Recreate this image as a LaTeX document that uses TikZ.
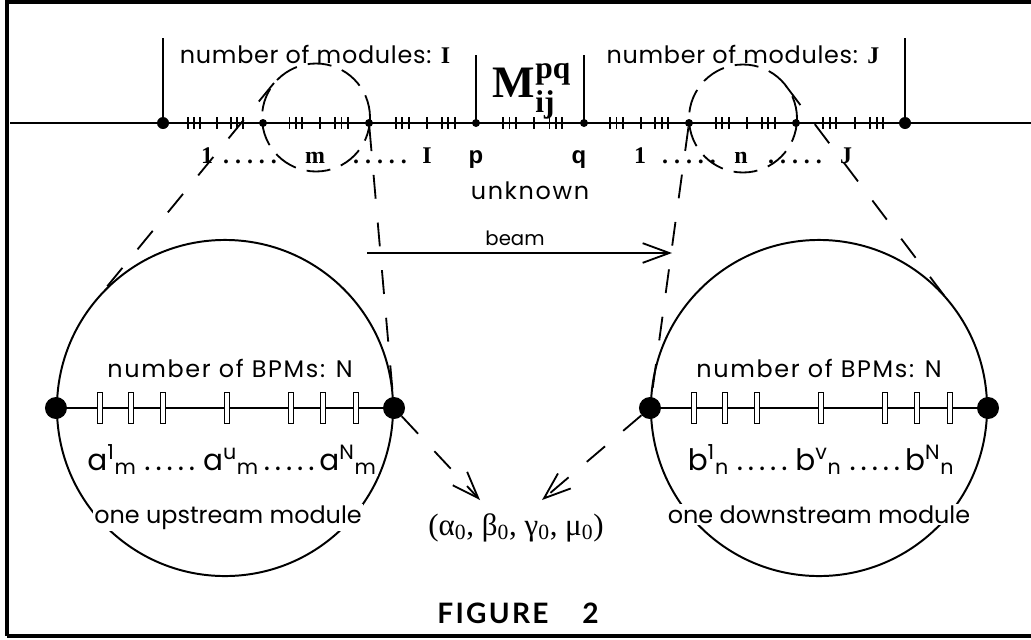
\documentclass[tikz,border=0pt]{standalone}
\usepackage{fontspec}
\usepackage{amsmath}
\setmainfont{Liberation Serif}
\newfontfamily\geofont{Poppins}
\newfontfamily\helvfont{Liberation Sans}
\newfontfamily\capfont{Lato}
\usetikzlibrary{arrows.meta, calc, positioning}
\tikzset{
  beamline/.style={line width=1.4pt},
  tick/.style={line width=1.3pt},
  bigdot/.style={circle, fill, inner sep=0pt, minimum size=0.3cm},
  smalldot/.style={circle, fill, inner sep=0pt, minimum size=0.2cm},
  enddot/.style={circle, fill, inner sep=0pt, minimum size=0.55cm},
  bpm/.style={rectangle, draw, fill=white, line width=1pt, inner sep=0pt,
    minimum width=0.12cm, minimum height=0.78cm},
  modcirc/.style={circle, draw, line width=1.4pt, inner sep=0pt, minimum size=8.4cm},
  zoomcirc/.style={line width=1.3pt, dash pattern=on 17pt off 8pt},
  zoomline/.style={line width=1.3pt, dash pattern=on 17pt off 17pt},
  barb/.style={-{Straight Barb[length=19pt, width=14pt, line width=1.3pt]}},
  lbl/.style={font=\geofont\fontsize{17}{19}\selectfont, anchor=base, inner sep=1pt},
  widelbl/.style={lbl, font=\geofont\addfontfeature{LetterSpace=#1}\fontsize{17}{19}\selectfont},
  biglbl/.style={font=\geofont\fontsize{21}{23}\selectfont, anchor=base, inner sep=1pt},
  idx/.style={font=\bfseries\fontsize{17}{19}\selectfont, anchor=base, inner sep=0pt},
  sidx/.style={font=\helvfont\bfseries\fontsize{17}{19}\selectfont, anchor=base, inner sep=0pt}
}

\begin{document}
\begin{tikzpicture}[x=0.025cm, y=-0.025cm]
  \useasboundingbox (0,0) rectangle (1031,639);

  % frame
  \draw[line width=2.4pt] (1031,2) -- (7,2) -- (7,636);
  \draw[line width=3pt] (7,636) -- (1031,636);

  % beam line and module boundaries
  \draw[beamline] (10,123) -- (1031,123);
  \foreach \n/\x/\s in {d0/163/bigdot, d1/263/smalldot, d2/369/smalldot, d3/476/smalldot,
                        d4/584/smalldot, d5/689/smalldot, d6/796/smalldot, d7/905/bigdot}
    \node[\s] (\n) at (\x,123) {};
  \foreach \a/\b in {d0/d1, d1/d2, d2/d3, d3/d4, d4/d5, d5/d6, d6/d7}
    \foreach \f in {0.25,0.31,0.37,0.54,0.68,0.74,0.80}
      \draw[tick] ($(\a)!\f!(\b)$) ++(0,-6) -- ++(0,12);
  \draw[tick] (d0.center) -- ++(0,-85);
  \draw[tick] (d3.center) -- ++(0,-68);
  \draw[tick] (d4.center) -- ++(0,-68);
  \draw[tick] (d7.center) -- ++(0,-85);

  % labels on the beam line
  \node[widelbl=3] (nmodi) at (315,63) {number of modules: {\rmfamily\bfseries I}};
  \node[widelbl=3] (nmodj) at (743,63) {number of modules: {\rmfamily\bfseries J}};
  \node[anchor=base, font=\fontsize{32}{34}\selectfont] (mpq) at (532,97)
    {$\textbf{M}^{\textbf{pq}}_{\textbf{ij}}$};
  \node[idx] (i1) at (207,163) {1};
  \node[idx] (dots1) at (250,163) {.\ .\ .\ .\ .};
  \node[idx] (im) at (315,163) {m};
  \node[idx] (dots2) at (380,163) {.\ .\ .\ .\ .};
  \node[idx] (iI) at (427,163) {I};
  \node[sidx] (ip) at (476,163) {p};
  \node[sidx] (iq) at (579,163) {q};
  \node[idx] (j1) at (640,163) {1};
  \node[idx] (dots3) at (689,163) {.\ .\ .\ .\ .};
  \node[idx] (jn) at (741,163) {n};
  \node[idx] (dots4) at (795,163) {.\ .\ .\ .\ .};
  \node[idx] (jJ) at (846,163) {J};
  \node[widelbl=7] (unk) at (530,199) {unknown};
  \node[lbl, font=\geofont\fontsize{14}{16}\selectfont] (beam) at (515,245) {beam};

  % beam direction
  \coordinate (bs) at (367,253);
  \coordinate (be) at (672,253);
  \draw[barb, line width=1.4pt] (bs) -- (be);

  % upstream and downstream modules
  \node[modcirc] (upmod) at (225,408) {};
  \node[modcirc] (dnmod) at (819,408) {};
  \node[enddot] (ul) at (upmod.west) {};
  \node[enddot] (ur) at (upmod.east) {};
  \node[enddot] (dl) at (dnmod.west) {};
  \node[enddot] (dr) at (dnmod.east) {};
  \draw[tick] (ul) -- (ur);
  \draw[tick] (dl) -- (dr);
  \foreach \o in {44,75,107,171,235,267,300} {
    \node[bpm] at ($(ul)+(\o,0)$) {};
    \node[bpm] at ($(dl)+(\o,0)$) {};
  }
  \node[widelbl=7] (nbpmu) at (230,377) {number of BPMs: N};
  \node[widelbl=7] (nbpmd) at (819,377) {number of BPMs: N};
  \node[biglbl, fill=white] (arow) at (232,470)
    {a\textsuperscript{1}\textsubscript{m}\ .\,.\,.\,.\,.\ a\textsuperscript{u}\textsubscript{m}\,.\,.\,.\,.\,.\,a\textsuperscript{N}\textsubscript{m}};
  \node[biglbl, fill=white] (brow) at (821,470)
    {b\textsuperscript{1}\textsubscript{n}\ .\,.\,.\,.\,.\ b\textsuperscript{v}\textsubscript{n}\ .\,.\,.\,.\,.\,b\textsuperscript{N}\textsubscript{n}};
  \node[lbl, fill=white] (upname) at (228,523) {one upstream module};
  \node[lbl, fill=white] (dnname) at (819,523) {one downstream module};

  % zoomed modules on the beam line
  \draw[zoomcirc] (316,117.5) circle (54);
  \draw[zoomcirc] (743,118.5) circle (54);
  \coordinate (ut) at (274,83);
  \coordinate (ub) at (96,300);
  \coordinate (dt) at (786,86);
  \coordinate (db) at (952,306);
  \draw[zoomline] (ut) -- (ub);
  \draw[zoomline] (d2) -- (ur);
  \draw[zoomline] (d5) -- (dl);
  \draw[zoomline] (dt) -- (db);

  % initial twiss parameters
  \node[anchor=base, font=\fontsize{22}{24}\selectfont] (twiss) at (516,535)
    {(α\textsubscript{0}, β\textsubscript{0}, γ\textsubscript{0}, μ\textsubscript{0})};
  \coordinate (tipl) at (480,500);
  \coordinate (tipr) at (542,500);
  \draw[zoomline, barb] (ur) -- (tipl);
  \draw[zoomline, barb] (dl) -- (tipr);

  \node[anchor=base, font=\capfont\bfseries\fontsize{20}{22}\selectfont] (fig) at (518,623)
    {\addfontfeature{LetterSpace=8}FIGURE\hspace{1.2em}2};
\end{tikzpicture}
\end{document}
